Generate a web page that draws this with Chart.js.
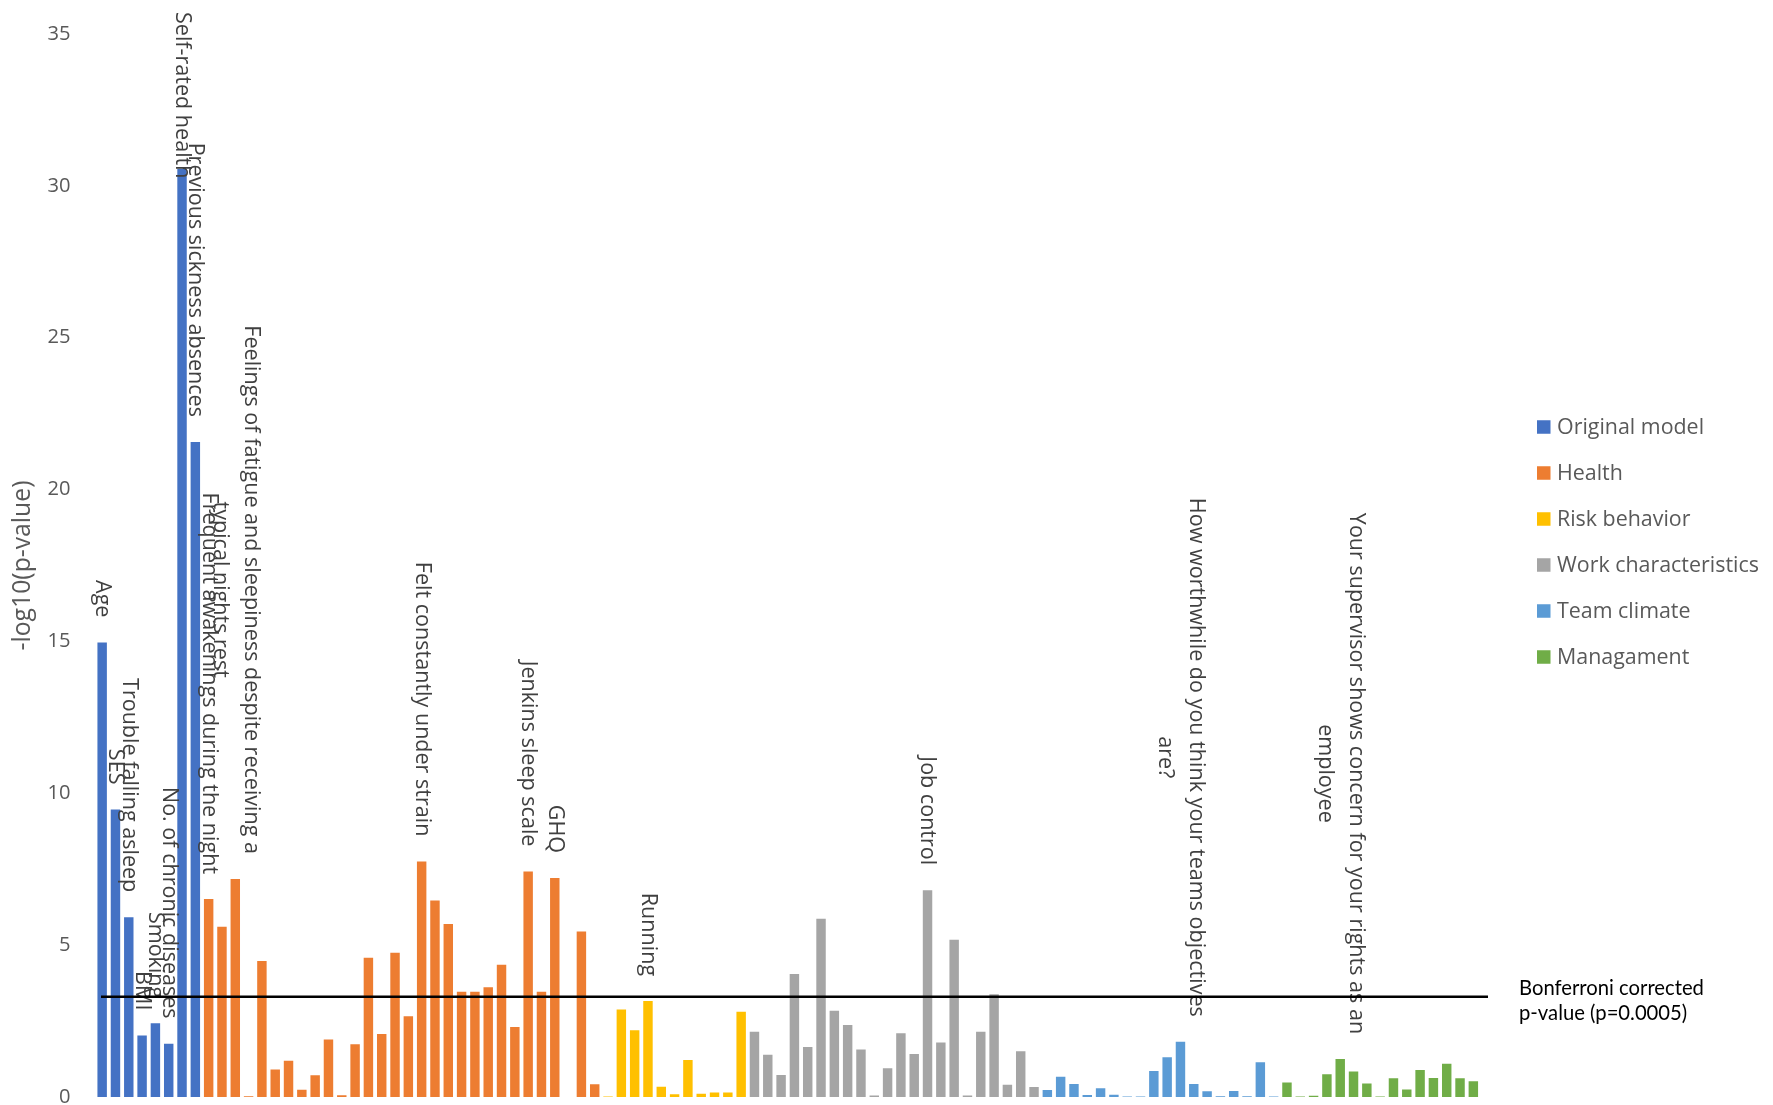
<!DOCTYPE html>
<html>
<head>
<meta charset="utf-8">
<script src="https://cdn.jsdelivr.net/npm/chart.js@4.4.1/dist/chart.umd.min.js"></script>
<style>
  html, body { margin: 0; padding: 0; background: #ffffff; }
  #c { display: block; }
</style>
</head>
<body>
<canvas id="c" width="1773" height="1105"></canvas>
<script>
// ---------------- DATA ----------------
const groupNames = ['Original model', 'Health', 'Risk behavior', 'Work characteristics', 'Team climate', 'Managament'];
const groupColors = ['#4472C4', '#ED7D31', '#FFC000', '#A5A5A5', '#5B9BD5', '#70AD47'];

const originalModel = [15.0, 9.5, 5.95, 2.06, 2.46, 1.79, 30.6, 21.6];
const health = [6.55, 5.64, 7.21, 0.05, 4.51, 0.94, 1.23, 0.27, 0.75, 1.93,
                0.09, 1.77, 4.62, 2.11, 4.78, 2.69, 7.79, 6.50, 5.73, 3.50,
                3.50, 3.65, 4.39, 2.34, 7.46, 3.50, 7.24, null, 5.48, 0.45];
const riskBehavior = [0.04, 2.91, 2.23, 3.19, 0.37, 0.12, 1.25, 0.14, 0.18, 0.18, 2.84];
const workCharacteristics = [2.18, 1.42, 0.76, 4.08, 1.68, 5.90, 2.87, 2.40, 1.60, 0.08, 0.98,
                             2.13, 1.45, 6.84, 1.83, 5.21, 0.08, 2.18, 3.42, 0.44, 1.54, 0.36];
const teamClimate = [0.26, 0.70, 0.46, 0.10, 0.32, 0.11, 0.03, 0.03, 0.89, 1.34, 1.85, 0.46,
                     0.22, 0.05, 0.23, 0.05, 1.18, 0.03];
const management = [0.51, 0.03, 0.07, 0.78, 1.28, 0.87, 0.48, 0.03, 0.65, 0.28, 0.92, 0.66,
                    1.13, 0.65, 0.55];

// item labels (only the labelled items are named in the figure)
const originalLabels = ['Age', 'SES', 'Trouble falling asleep', 'BMI', 'Smoking',
                        'No. of chronic diseases', 'Self-rated health', 'Previous sickness absences'];
const healthLabels = {
  0: 'Frequent awakenings during the night',
  2: ['Feelings of fatigue and sleepiness despite receiving a', 'typical nights rest'],
  16: 'Felt constantly under strain',
  24: 'Jenkins sleep scale',
  26: 'GHQ'
};
const riskLabels = { 3: 'Running' };
const workLabels = { 13: 'Job control' };
const teamLabels = { 10: ['How worthwhile do you think your teams objectives', 'are?'] };
const managementLabels = { 4: ['Your supervisor shows concern for your rights as an', 'employee'] };

const yTicks = [0, 5, 10, 15, 20, 25, 30, 35];
const bonferroni = 3.3;   // -log10(0.0005)
const bonferroniText = ['Bonferroni corrected', 'p-value (p=0.0005)'];
const yTitle = '-log10(p-value)';

// ---------------- BUILD ----------------
const groupValues = [originalModel, health, riskBehavior, workCharacteristics, teamClimate, management];
const groupLabels = [Object.assign({}, originalLabels), healthLabels, riskLabels, workLabels, teamLabels, managementLabels];

const values = [], categories = [], barColors = [];
groupValues.forEach((arr, g) => {
  arr.forEach((v, i) => {
    values.push(v);
    categories.push(groupLabels[g][i] !== undefined ? groupLabels[g][i] : '');
    barColors.push(groupColors[g]);
  });
});

// font calibration helpers
const mctx = document.createElement('canvas').getContext('2d');
function fitSize(family, text, target) {
  mctx.font = '100px ' + family;
  return 100 * target / mctx.measureText(text).width;
}
const FAM = '"Open Sans", "Noto Sans", sans-serif';
const labelSize = fitSize(FAM, 'Feelings of fatigue and sleepiness despite receiving a', 529);
const tickSize = fitSize(FAM, '35', 23);
const titleSize = fitSize(FAM, yTitle, 170);
const legendSize = fitSize(FAM, 'Work characteristics', 202);
const BFAM = 'Lato, "Open Sans", sans-serif';
const bonfSize = fitSize(BFAM, 'Bonferroni corrected', 185);

// ---------------- PLUGINS ----------------
const itemLabelPlugin = {
  id: 'itemLabels',
  afterDatasetsDraw(chart) {
    const meta = chart.getDatasetMeta(0);
    const ctx = chart.ctx;
    const GAP = 24, TOPMIN = 12, LINE = 31;
    ctx.save();
    ctx.font = labelSize + 'px ' + FAM;
    ctx.fillStyle = '#404040';
    categories.forEach((lab, i) => {
      if (!lab) return;
      const bar = meta.data[i];
      const lines = Array.isArray(lab) ? lab : [lab];
      const w = Math.max(...lines.map(l => ctx.measureText(l).width));
      let end = bar.y - GAP;
      let start = end - w;
      if (start < TOPMIN) { start = TOPMIN; end = start + w; }
      const mid = (start + end) / 2;
      ctx.save();
      ctx.translate(bar.x, mid);
      ctx.rotate(Math.PI / 2);
      ctx.textAlign = 'center';
      ctx.textBaseline = 'middle';
      lines.forEach((l, k) => {
        const off = (k - (lines.length - 1) / 2) * LINE;
        ctx.fillText(l, 0, off);
      });
      ctx.restore();
    });
    ctx.restore();
  }
};

const bonferroniPlugin = {
  id: 'bonferroni',
  afterDatasetsDraw(chart) {
    const ctx = chart.ctx;
    const area = chart.chartArea;
    const y = chart.scales.y.getPixelForValue(bonferroni);
    ctx.save();
    ctx.strokeStyle = '#000000';
    ctx.lineWidth = 2.5;
    ctx.beginPath();
    ctx.moveTo(area.left + 5.5, y);
    ctx.lineTo(area.right + 8, y);
    ctx.stroke();
    ctx.fillStyle = '#000000';
    ctx.font = bonfSize + 'px ' + BFAM;
    ctx.textAlign = 'left';
    ctx.textBaseline = 'middle';
    ctx.fillText(bonferroniText[0], area.right + 39, y - 8);
    ctx.fillText(bonferroniText[1], area.right + 39, y + 17);
    ctx.restore();
  }
};

const legendPlugin = {
  id: 'groupLegend',
  afterDraw(chart) {
    const ctx = chart.ctx;
    const area = chart.chartArea;
    const x0 = area.right + 57, y0 = 427, pitch = 46, box = 13.5;
    ctx.save();
    ctx.font = legendSize + 'px ' + FAM;
    ctx.textAlign = 'left';
    ctx.textBaseline = 'middle';
    groupNames.forEach((name, k) => {
      const cy = y0 + k * pitch;
      ctx.fillStyle = groupColors[k];
      ctx.fillRect(x0, cy - box / 2, box, box);
      ctx.fillStyle = '#595959';
      ctx.fillText(name, x0 + 20, cy + 1);
    });
    ctx.restore();
  }
};

// ---------------- CHART ----------------
new Chart(document.getElementById('c'), {
  type: 'bar',
  data: {
    labels: categories.map((c, i) => (Array.isArray(c) ? c.join(' ') : c) || ('item ' + (i + 1))),
    datasets: [{
      data: values,
      backgroundColor: barColors,
      borderColor: 'rgba(255,255,255,0.3)',
      borderWidth: 1,
      categoryPercentage: 1.0,
      barPercentage: 0.86
    }]
  },
  options: {
    responsive: false,
    animation: false,
    devicePixelRatio: 1,
    layout: { padding: { top: 34, right: 293, bottom: 8, left: 0 } },
    plugins: {
      legend: { display: false },
      tooltip: { enabled: false }
    },
    scales: {
      x: { display: false, offset: true },
      y: {
        min: 0, max: 35,
        afterBuildTicks(s) { s.ticks = yTicks.map(v => ({ value: v })); },
        ticks: { color: '#595959', font: { family: FAM, size: tickSize }, padding: 25 },
        grid: { display: false, drawTicks: false },
        border: { display: false },
        title: {
          display: true, text: yTitle, color: '#595959',
          font: { family: FAM, size: titleSize }, padding: { top: 8, bottom: 0 }
        },
        afterFit(s) { s.width = 95.5; s.paddingTop = 0; s.paddingBottom = 0; }
      }
    }
  },
  plugins: [itemLabelPlugin, bonferroniPlugin, legendPlugin]
});
</script>
</body>
</html>
